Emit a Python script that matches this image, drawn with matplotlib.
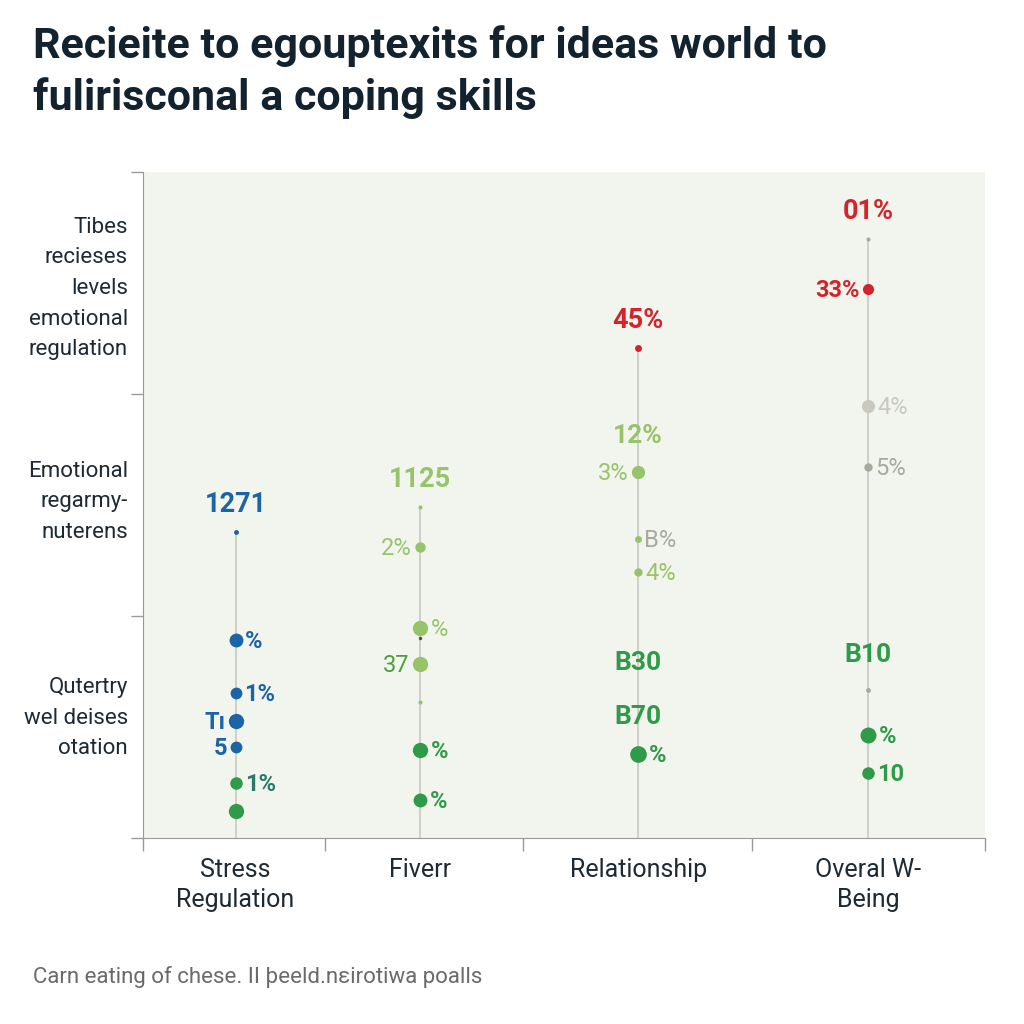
import matplotlib
matplotlib.use("Agg")
import matplotlib.pyplot as plt

plt.rcParams['font.family'] = ['Roboto', 'DejaVu Sans']

# ---- data ----
categories = ["Stress\nRegulation", "Fiverr", "Relationship", "Overal W-\nBeing"]
band_labels = ["Qutertry\nwel deises\notation",
               "Emotional\nregarmy-\nnuterens",
               "Tibes\nrecieses\nlevels\nemotional\nregulation"]

stress_vals = [45.9, 29.7, 21.8, 17.6, 13.7, 8.3, 4.1]
stress_text = ["1271", "%", "1%", "Tı", "5", "1%", ""]
stress_kind = ["b", "b", "b", "b", "b", "g", "g"]

fiverr_vals = [49.7, 43.7, 31.5, 30.0, 26.1, 20.4, 13.2, 5.7]
fiverr_text = ["1125", "2%", "%", "", "37", "", "%", "%"]
fiverr_kind = ["lg", "lg", "lg", "dk", "lg", "lg", "g", "g"]

relation_vals = [73.6, 55.0, 44.9, 39.9, 12.6]
relation_text = ["45%", "3%", "B%", "4%", "%"]
relation_kind = ["r", "lg", "lg", "lg", "g"]

overall_vals = [89.9, 82.4, 64.9, 55.7, 22.2, 15.5, 9.8]
overall_text = ["01%", "33%", "4%", "5%", "", "%", "10"]
overall_kind = ["gr", "r", "lgr", "gr", "gr", "g", "g"]

# free-standing value labels (category index, value, text, kind)
extra_cat = [2, 2, 2, 3]
extra_vals = [60.4, 26.3, 18.2, 27.5]
extra_text = ["12%", "B30", "B70", "B10"]
extra_kind = ["lg", "g", "g", "g"]

# ---- styling ----
colors = {"b": "#1b64a6", "g": "#2f9a47", "lg": "#97c46a", "r": "#d3242c",
          "gr": "#a9a99e", "lgr": "#c9c9c0", "dk": "#5a4a3a"}
cat_x = [0.110, 0.329, 0.588, 0.861]
bounds = [0.0, 0.216, 0.451, 0.723, 1.0]

stress_size = [3.5, 10, 8.5, 11, 8.5, 9, 11]
stress_side = ["top", "right", "right", "left", "left", "right", None]
fiverr_size = [3, 7.5, 11, 2.5, 11, 3, 11, 10]
fiverr_side = ["top", "left", "right", None, "left", None, "right", "right"]
relation_size = [5, 9.5, 5, 6, 12]
relation_side = ["top", "left", "right", "right", "right"]
overall_size = [3, 8, 9.5, 6, 3.5, 11.5, 9]
overall_side = ["top", "left", "right", "right", None, "right", "right"]

label_color = {("stress", 5): "#2a7a6a", ("fiverr", 4): "#4d9e3e",
               ("relation", 2): "#a9a99e", ("overall", 0): "#d3242c"}

fig = plt.figure(figsize=(10.24, 10.24), dpi=100)
ax = fig.add_axes([0.1396, 0.1816, 0.8223, 0.6504])
ax.set_facecolor("#f2f5ee")
ax.set_xlim(0, 1)
ax.set_ylim(0, 100)

groups = [("stress", stress_vals, stress_text, stress_kind, stress_size, stress_side),
          ("fiverr", fiverr_vals, fiverr_text, fiverr_kind, fiverr_size, fiverr_side),
          ("relation", relation_vals, relation_text, relation_kind, relation_size, relation_side),
          ("overall", overall_vals, overall_text, overall_kind, overall_size, overall_side)]

for ci, (name, vals, texts, kinds, sizes, sides) in enumerate(groups):
    x = cat_x[ci]
    ax.plot([x, x], [0, max(vals)], color="#c8c8c4", lw=1.2, zorder=1)
    for i, (v, t, k, s, side) in enumerate(zip(vals, texts, kinds, sizes, sides)):
        ax.plot(x, v, "o", color=colors[k], ms=s, mec="none", zorder=3)
        if not t or side is None:
            continue
        c = label_color.get((name, i), colors[k])
        bold = side == "top" or k in ("b", "g", "r")
        fw = "bold" if bold else "normal"
        if side == "top":
            ax.annotate(t, (x, v), xytext=(0, 10), textcoords="offset points",
                        ha="center", va="bottom", color=c, fontsize=19.5, fontweight="bold")
        elif side == "right":
            ax.annotate(t, (x, v), xytext=(s / 2 + 2, -1), textcoords="offset points",
                        ha="left", va="center", color=c, fontsize=17, fontweight=fw)
        else:
            ax.annotate(t, (x, v), xytext=(-s / 2 - 2, -1), textcoords="offset points",
                        ha="right", va="center", color=c, fontsize=17, fontweight=fw)

for ci, v, t, k in zip(extra_cat, extra_vals, extra_text, extra_kind):
    ax.text(cat_x[ci], v, t, ha="center", va="center", color=colors[k],
            fontsize=19, fontweight="bold", zorder=4)

# axes styling
for s in ["top", "right"]:
    ax.spines[s].set_visible(False)
ax.spines["left"].set_color("#9a9a9a")
ax.spines["bottom"].set_color("#9a9a9a")
ax.set_yticks([0, 100 / 3, 200 / 3, 100])
ax.set_yticklabels([])
ax.set_xticks(bounds)
ax.set_xticklabels([])
ax.tick_params(axis="both", length=9, color="#9a9a9a", width=1)

for yc, lab in zip([18.0, 50.5, 82.5], band_labels):
    ax.text(-0.018, yc, lab, transform=ax.get_yaxis_transform(), ha="right", va="center",
            fontsize=16, color="#1e2a33", linespacing=1.6)

for x, lab in zip(cat_x, categories):
    ax.text(x, -0.03, lab, transform=ax.get_xaxis_transform(), ha="center", va="top",
            fontsize=18, color="#1e2a33", linespacing=1.3)

fig.text(0.032, 0.975, "Recieite to egouptexits for ideas world to\nfulirisconal a coping skills",
         ha="left", va="top", fontsize=31, fontweight="bold", color="#13222f",
         linespacing=1.3)
fig.text(0.032, 0.046, "Carn eating of chese. II þeeld.nεirotiwa poalls",
         ha="left", va="center", fontsize=16, color="#6a6a6a")

fig.savefig("out.png", dpi=100)
